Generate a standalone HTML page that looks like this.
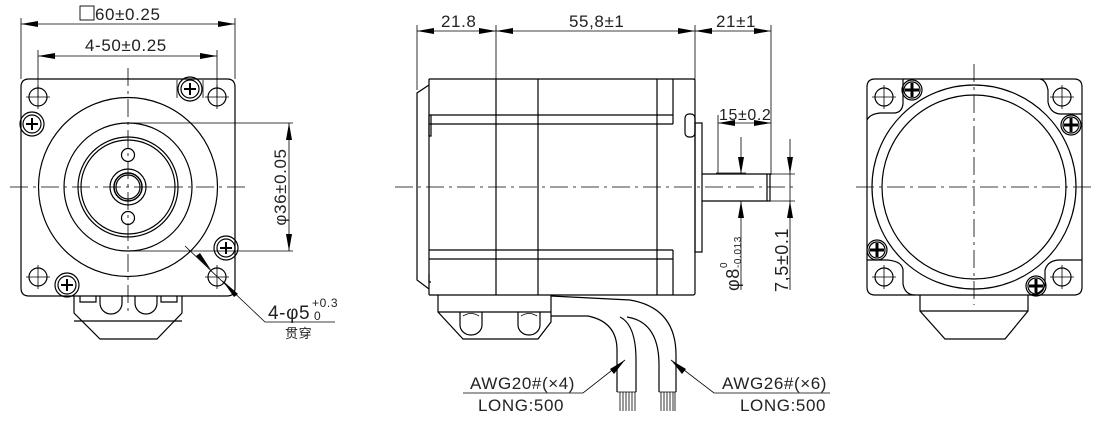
<!DOCTYPE html>
<html><head><meta charset="utf-8"><style>
html,body{margin:0;padding:0;background:#fff;}
svg{display:block;}
text{font-family:"Liberation Sans","Noto Sans CJK SC",sans-serif;fill:#222;font-size:17px;letter-spacing:0.6px;}
</style></head><body>
<svg width="1120" height="429" viewBox="0 0 1120 429" xmlns="http://www.w3.org/2000/svg">
<g fill="none" stroke="#000" stroke-width="1.2">
<!-- ============ LEFT VIEW ============ -->
<path d="M29,79 H227 Q235,79 235,87 V288 Q235,296 227,296 H29 Q21,296 21,288 V87 Q21,79 29,79 Z"/>
<circle cx="128" cy="187" r="89.5"/>
<circle cx="128" cy="187" r="64"/>
<circle cx="128" cy="187" r="50"/>
<circle cx="128" cy="187" r="47"/>
<circle cx="128" cy="187" r="18"/>
<circle cx="128" cy="187" r="14" stroke-width="1.5"/>
<circle cx="128" cy="187" r="12"/>
<circle cx="128" cy="155" r="6.5"/>
<circle cx="128" cy="218" r="6.5"/>
<circle cx="38" cy="97" r="9"/><circle cx="217" cy="97" r="9"/><circle cx="38" cy="277" r="9"/><circle cx="217" cy="277" r="9"/>
<path d="M26,97h24M38,85v24M205,97h24M217,85v24M26,277h24M38,265v24M205,277h24M217,265v24" stroke-width="0.8"/>
<circle cx="190" cy="89" r="12"/><circle cx="190" cy="89" r="9"/><path d="M184,89h12M190,83v12" stroke-width="2"/>
<path d="M177,98 V80 M203,80 V98" stroke-width="0.8"/>
<circle cx="32" cy="124" r="12"/><circle cx="32" cy="124" r="9"/><path d="M26,124h12M32,118v12" stroke-width="2"/>
<circle cx="226" cy="248" r="12"/><circle cx="226" cy="248" r="9"/><path d="M220,248h12M226,242v12" stroke-width="2"/>
<circle cx="67" cy="285" r="12"/><circle cx="67" cy="285" r="9"/><path d="M61,285h12M67,279v12" stroke-width="2"/>
<path d="M74,296 V313 L100,339 H157 L182,313 V296"/>
<path d="M74,321 H182"/>
<path d="M80,296 V302 H96 V296 M161,296 V302 H177 V296"/>
<path d="M100,296 V303 A11,11 0 0 0 122,303 V296 M135,296 V303 A11,11 0 0 0 157,303 V296"/>
<path d="M10,187 H247 M128,68 V312" stroke-width="0.8" stroke-dasharray="18,5,3,5"/>
<path d="M21,18 V79 M235,18 V79 M38,50 V97 M217,50 V97" stroke-width="0.8"/>
<path d="M21,24 H235 M38,56 H217" stroke-width="0.8"/>
<rect x="80" y="6" width="14" height="14" stroke-width="0.9"/>
<path d="M128,123 H293 M128,251 H293 M289,123 V251" stroke-width="0.8"/>
<path d="M185,246 L265,322 H335" stroke-width="0.8"/>
</g>
<g fill="#000" stroke="none">
<polygon points="21,24 38,21 38,27"/><polygon points="235,24 218,21 218,27"/>
<polygon points="38,56 55,53 55,59"/><polygon points="217,56 200,53 200,59"/>
<polygon points="289,123 286,140 292,140"/><polygon points="289,251 286,234 292,234"/>
<polygon points="211,270 196,256 200,253"/><polygon points="222,280 238,294 234,297"/>
</g>
<text x="95" y="20">60±0.25</text>
<text x="85" y="51">4-50±0.25</text>
<text transform="translate(286,187) rotate(-90)" text-anchor="middle">φ36±0.05</text>
<text x="268" y="319" style="font-size:19px">4-φ5</text>
<text x="312" y="307" style="font-size:12px">+0.3</text>
<text x="314" y="320" style="font-size:12px">0</text>
<text x="285" y="338" style="font-size:13px">贯穿</text>

<!-- ============ MIDDLE VIEW ============ -->
<g fill="none" stroke="#000" stroke-width="1.2">
<path d="M429,79 H693 Q695,79 695,81 V293 Q695,295 693,295 H429"/>
<path d="M429,79 V295"/>
<path d="M429,85 L417,93 V280 L429,289"/>
<path d="M496,79 V295 M538,79 V295 M657,79 V295 M673,79 V124 M673,250 V295"/>
<path d="M429,115 H673 M429,124 H673 M429,250 H673 M429,259 H673"/>
<path d="M429,115 V136 H431 V115 M429,274 V282 H431"/>
<rect x="695" y="123" width="7" height="129"/>
<rect x="685" y="114" width="10" height="23" rx="4"/>
<path d="M702,174 H770 V201 H702 M767,174 V201"/>
<path d="M438,295 V312 L463,339 H538 L551,322 V295"/>
<path d="M438,312 H551"/>
<path d="M460,312 V325 A11,10 0 0 0 482,325 V312 M518,312 V325 A11,10 0 0 0 540,325 V312"/>
<path d="M463,316 Q471,311 479,316 M521,316 Q529,311 537,316" stroke-width="0.8"/>
<path d="M551,316 H588 Q617,322 617,350 V392"/>
<path d="M620,317 Q636,325 636,360 V392"/>
<path d="M627,317 Q659,322 659,365 V392"/>
<path d="M551,296 L630,300 Q676,308 676,355 V392"/>
<path d="M617,392 H636 M659,392 H676" stroke-width="0.8"/>
<path d="M620,392v19M623,392v19M626,392v19M629,392v19M632,392v19M635,392v19 M661,392v19M664,392v19M667,392v19M670,392v19M673,392v19M675,392v19" stroke-width="0.8"/>
<path d="M395,187 H795" stroke-width="0.8" stroke-dasharray="18,5,3,5"/>
<path d="M417,25 V90 M496,25 V80 M695,25 V80 M771,25 V175" stroke-width="0.8"/>
<path d="M417,31 H771 M718,115 V174 M718,123 H771" stroke-width="0.8"/>
<path d="M741,137 V174 M741,201 V290 M716,173 H746 M770,174 H795 M770,201 H795 M790,139 V290" stroke-width="0.8"/>
<path d="M463,393 H583 L625,360 M830,393 H714 L671,360" stroke-width="0.8"/>
</g>
<g fill="#000" stroke="none">
<polygon points="417,31 434,28 434,34"/><polygon points="496,31 479,28 479,34"/>
<polygon points="496,31 513,28 513,34"/><polygon points="695,31 678,28 678,34"/>
<polygon points="695,31 712,28 712,34"/><polygon points="771,31 754,28 754,34"/>
<polygon points="718,123 735,120 735,126"/><polygon points="771,123 754,120 754,126"/>
<polygon points="741,174 738,157 744,157"/><polygon points="741,201 738,218 744,218"/>
<polygon points="790,174 787,157 793,157"/><polygon points="790,201 787,218 793,218"/>
<polygon points="625,360 614,374 610,369"/><polygon points="671,360 682,374 686,369"/>
</g>
<text x="441" y="27">21.8</text>
<text x="569" y="27">55,8±1</text>
<text x="716" y="27">21±1</text>
<text x="719" y="120" style="font-size:16px">15±0.2</text>
<text transform="translate(739,291) rotate(-90)" style="font-size:18px">φ8</text>
<text transform="translate(727,268) rotate(-90)" style="font-size:10px">0</text>
<text transform="translate(741,268) rotate(-90)" style="font-size:10px">-0.013</text>
<text transform="translate(788,292) rotate(-90)" style="font-size:18px">7,5±0.1</text>
<text x="470" y="389">AWG20#(×4)</text>
<text x="478" y="411">LONG:500</text>
<text x="722" y="389">AWG26#(×6)</text>
<text x="740" y="411">LONG:500</text>

<!-- ============ RIGHT VIEW ============ -->
<g fill="none" stroke="#000" stroke-width="1.2">
<path d="M875,79 H1074 Q1082,79 1082,87 V287 Q1082,295 1074,295 H875 Q867,295 867,287 V87 Q867,79 875,79 Z"/>
<circle cx="974" cy="187" r="102"/>
<circle cx="974" cy="187" r="92"/>
<circle cx="884" cy="97" r="9"/><circle cx="1062" cy="97" r="9"/><circle cx="884" cy="277" r="9"/><circle cx="1062" cy="277" r="9"/>
<path d="M872,97h24M884,85v24M1050,97h24M1062,85v24M872,277h24M884,265v24M1050,277h24M1062,265v24" stroke-width="0.8"/>
<path d="M867,120 Q870,114 880,113 H895 Q902,112 903,104 V79"/>
<path d="M1040,79 Q1046,80 1048,90 V102 Q1050,113 1060,114 H1082"/>
<path d="M867,260 H887 Q902,261 903,270 V284 Q905,295 915,295"/>
<path d="M1030,295 Q1042,294 1045,285 V270 Q1048,260 1060,260 H1082"/>
<circle cx="912" cy="90" r="10"/><circle cx="912" cy="90" r="8"/><path d="M905,90h14M912,83v14" stroke-width="3"/>
<circle cx="1071" cy="125" r="10"/><circle cx="1071" cy="125" r="8"/><path d="M1064,125h14M1071,118v14" stroke-width="3"/>
<circle cx="877" cy="250" r="10"/><circle cx="877" cy="250" r="8"/><path d="M870,250h14M877,243v14" stroke-width="3"/>
<circle cx="1036" cy="286" r="10"/><circle cx="1036" cy="286" r="8"/><path d="M1029,286h14M1036,279v14" stroke-width="3"/>
<path d="M920,295 V311 L945,339 H1005 L1028,311 V295 M920,311 H1028"/>
<path d="M856,187 H1095 M974,64 V305" stroke-width="0.8" stroke-dasharray="18,5,3,5"/>
</g>
</svg>
</body></html>
